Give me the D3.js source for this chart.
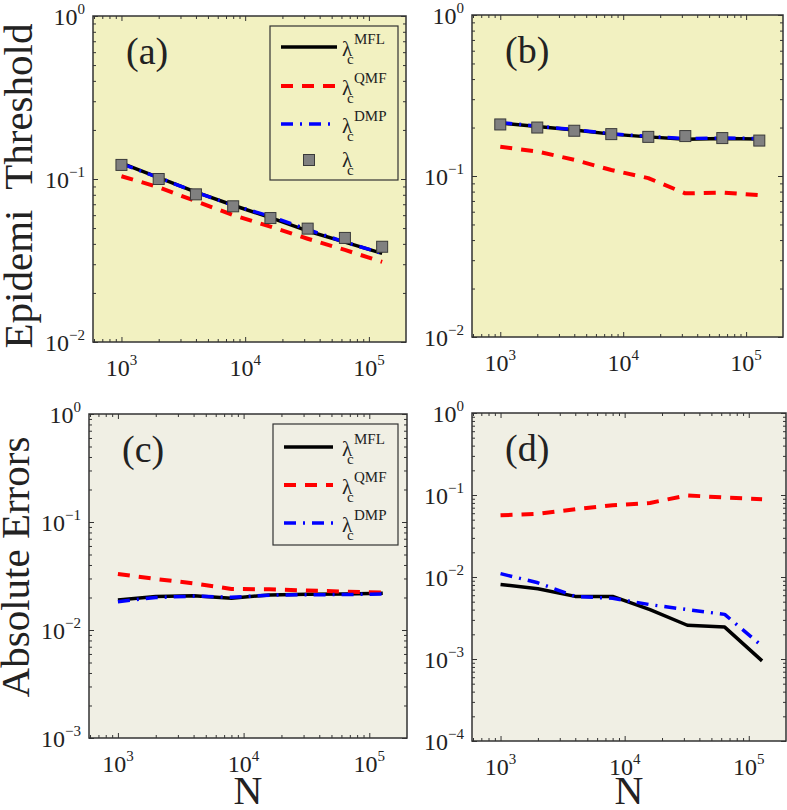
<!DOCTYPE html>
<html>
<head>
<meta charset="utf-8">
<script src="https://cdn.jsdelivr.net/npm/d3@7"></script>
<style>
  html, body { margin: 0; padding: 0; background: #fff; }
  svg { display: block; font-family: "Liberation Serif", "Times New Roman", serif; }
  .title { white-space: pre; }
</style>
</head>
<body>
<svg id="chart" width="787" height="810"></svg>
<script>
/* ===============================
   Data
================================ */

const N_VALUES = [1000, 2000, 4000, 8000, 16000, 32000, 64000, 128000];

/* (a) epidemic threshold */
const A_MFL = [0.125, 0.102, 0.083, 0.069, 0.058, 0.048, 0.041, 0.035];
const A_QMF = [0.104, 0.089, 0.073, 0.060, 0.051, 0.043, 0.0367, 0.031];
const A_DMP = [0.124, 0.102, 0.083, 0.069, 0.059, 0.049, 0.041, 0.035];
const A_SIM = [0.122, 0.100, 0.0805, 0.068, 0.0576, 0.0496, 0.0435, 0.0384];

/* (b) epidemic threshold */
const B_MFL = [0.213, 0.203, 0.193, 0.182, 0.175, 0.169, 0.171, 0.170];
const B_QMF = [0.152, 0.142, 0.126, 0.109, 0.097, 0.078, 0.079, 0.076];
const B_DMP = [0.215, 0.204, 0.194, 0.183, 0.176, 0.171, 0.172, 0.171];
const B_SIM = [0.209, 0.200, 0.191, 0.182, 0.175, 0.177, 0.172, 0.166];

/* (c) absolute errors */
const C_MFL = [0.0190, 0.0204, 0.0208, 0.0197, 0.0211, 0.0214, 0.0216, 0.0219];
const C_QMF = [0.0330, 0.0297, 0.0270, 0.0240, 0.0238, 0.0232, 0.0227, 0.0222];
const C_DMP = [0.0183, 0.0200, 0.0206, 0.0201, 0.0210, 0.0212, 0.0213, 0.0215];

/* (d) absolute errors */
const D_MFL = [0.0081, 0.0072, 0.0058, 0.0058, 0.0040, 0.00258, 0.00245, 0.00095];
const D_QMF = [0.0565, 0.059, 0.067, 0.075, 0.080, 0.099, 0.093, 0.089];
const D_DMP = [0.0110, 0.0085, 0.0058, 0.0055, 0.0046, 0.0040, 0.0035, 0.00144];

const X_TICKS = [1e3, 1e4, 1e5];
const X_TICK_EXP = ["3", "4", "5"];
const Y_TICKS_TOP = [1e-2, 1e-1, 1];
const Y_TICK_EXP_TOP = ["\u22122", "\u22121", "0"];
const Y_TICKS_C = [1e-3, 1e-2, 1e-1, 1];
const Y_TICK_EXP_C = ["\u22123", "\u22122", "\u22121", "0"];
const Y_TICKS_D = [1e-4, 1e-3, 1e-2, 1e-1, 1];
const Y_TICK_EXP_D = ["\u22124", "\u22123", "\u22122", "\u22121", "0"];

const SERIES_NAMES = ["MFL", "QMF", "DMP"];

/* ===============================
   Styles
================================ */

const STYLE = {
  MFL: { color: "#000000", width: 3.5, dash: null },
  QMF: { color: "#ff0000", width: 4, dash: "12,9" },
  DMP: { color: "#0000ff", width: 3.5, dash: "12,7,2,7" }
};

const X_DOMAIN = [Math.pow(10, 2.77), Math.pow(10, 5.3)];

const panels = [
  {
    label: "(a)", box: [93, 16, 406, 342], bg: "#f2f1c1",
    yDomain: [1e-2, 1], yTicks: Y_TICKS_TOP, yExp: Y_TICK_EXP_TOP,
    series: { MFL: A_MFL, QMF: A_QMF, DMP: A_DMP }, sim: A_SIM,
    legend: { x: 270, y: 26, w: 128, h: 154, lineX: [281, 337], textX: 342, rows: [47, 86, 124, 160] }
  },
  {
    label: "(b)", box: [472, 15, 783, 337], bg: "#f2f1c1",
    yDomain: [1e-2, 1], yTicks: Y_TICKS_TOP, yExp: Y_TICK_EXP_TOP,
    series: { MFL: B_MFL, QMF: B_QMF, DMP: B_DMP }, sim: B_SIM
  },
  {
    label: "(c)", box: [89, 414, 407, 738], bg: "#f0efe4",
    yDomain: [1e-3, 1], yTicks: Y_TICKS_C, yExp: Y_TICK_EXP_C,
    series: { MFL: C_MFL, QMF: C_QMF, DMP: C_DMP },
    legend: { x: 273, y: 424, w: 125, h: 121, lineX: [284, 333], textX: 342, rows: [447, 485, 523] },
    xTitle: true
  },
  {
    label: "(d)", box: [472, 413, 786, 741], bg: "#f0efe4",
    yDomain: [1e-4, 1], yTicks: Y_TICKS_D, yExp: Y_TICK_EXP_D,
    series: { MFL: D_MFL, QMF: D_QMF, DMP: D_DMP },
    xTitle: true
  }
];

const svg = d3.select("#chart");

/* ===============================
   Render panels
================================ */

panels.forEach(drawPanel);

/* Y axis titles */
svg.append("text")
  .attr("class", "title")
  .attr("transform", "translate(32,186) rotate(-90)")
  .attr("text-anchor", "middle")
  .attr("font-size", 41)
  .attr("fill", "#222")
  .text("Epidemi  Threshold");

svg.append("text")
  .attr("class", "title")
  .attr("transform", "translate(29,567) rotate(-90)")
  .attr("text-anchor", "middle")
  .attr("font-size", 41)
  .attr("fill", "#222")
  .text("Absolute Errors");

function drawPanel(p) {
  const [x0, y0, x1, y1] = p.box;

  const x = d3.scaleLog().domain(X_DOMAIN).range([x0, x1]);
  const y = d3.scaleLog().domain(p.yDomain).range([y1, y0]);

  const g = svg.append("g");

  g.append("rect")
    .attr("x", x0).attr("y", y0)
    .attr("width", x1 - x0).attr("height", y1 - y0)
    .attr("fill", p.bg);

  /* -------- TICKS (inside, all sides) -------- */

  const xMinor = minorTicks(X_DOMAIN);
  const yMinor = minorTicks(p.yDomain);

  const axes = [
    [d3.axisBottom(x), `translate(0,${y1})`, X_TICKS, xMinor],
    [d3.axisTop(x), `translate(0,${y0})`, X_TICKS, xMinor],
    [d3.axisLeft(y), `translate(${x0},0)`, p.yTicks, yMinor],
    [d3.axisRight(y), `translate(${x1},0)`, p.yTicks, yMinor]
  ];

  axes.forEach(([axis, tr, major, minor]) => {
    g.append("g").attr("transform", tr)
      .call(axis.tickValues(minor).tickSize(-3).tickFormat("").tickSizeOuter(0))
      .call(s => s.select(".domain").remove())
      .selectAll("line").attr("stroke", "#333");
    g.append("g").attr("transform", tr)
      .call(axis.tickValues(major).tickSize(-5).tickFormat("").tickSizeOuter(0))
      .call(s => s.select(".domain").remove())
      .selectAll("line").attr("stroke", "#333");
  });

  /* -------- TICK LABELS -------- */

  X_TICKS.forEach((v, i) => {
    const t = g.append("text")
      .attr("x", x(v)).attr("y", y1 + 34)
      .attr("text-anchor", "middle")
      .attr("font-size", 24).attr("fill", "#222");
    t.append("tspan").text("10");
    t.append("tspan").attr("dy", -11.5).attr("font-size", 15).text(X_TICK_EXP[i]);
  });

  p.yTicks.forEach((v, i) => {
    const t = g.append("text")
      .attr("x", x0 - 8).attr("y", y(v) + 9)
      .attr("text-anchor", "end")
      .attr("font-size", 24).attr("fill", "#222");
    t.append("tspan").text("10");
    t.append("tspan").attr("dy", -11.5).attr("font-size", 15).text(p.yExp[i]);
  });

  /* -------- LINES -------- */

  const clipId = "clip" + p.label.replace(/\W/g, "");
  svg.append("clipPath").attr("id", clipId)
    .append("rect")
    .attr("x", x0).attr("y", y0)
    .attr("width", x1 - x0).attr("height", y1 - y0);

  const line = d3.line()
    .x((d, i) => x(N_VALUES[i]))
    .y(d => y(d));

  const plot = g.append("g").attr("clip-path", `url(#${clipId})`);

  SERIES_NAMES.forEach(name => {
    const st = STYLE[name];
    plot.append("path")
      .datum(p.series[name])
      .attr("d", line)
      .attr("fill", "none")
      .attr("stroke", st.color)
      .attr("stroke-width", st.width)
      .attr("stroke-dasharray", st.dash)
      .attr("stroke-linejoin", "round");
  });

  if (p.sim) {
    plot.selectAll(".marker")
      .data(p.sim)
      .enter()
      .append("rect")
      .attr("class", "marker")
      .attr("x", (d, i) => x(N_VALUES[i]) - 5.5)
      .attr("y", d => y(d) - 5.5)
      .attr("width", 11).attr("height", 11)
      .attr("fill", "#808080")
      .attr("stroke", "#3a3a3a")
      .attr("stroke-width", 1);
  }

  /* -------- FRAME -------- */

  g.append("rect")
    .attr("x", x0).attr("y", y0)
    .attr("width", x1 - x0).attr("height", y1 - y0)
    .attr("fill", "none")
    .attr("stroke", "#333")
    .attr("stroke-width", 1.5);

  /* -------- PANEL LABEL -------- */

  g.append("text")
    .attr("x", x0 + 33).attr("y", y0 + 48)
    .attr("font-size", 38).attr("fill", "#222")
    .text(p.label);

  if (p.legend) drawLegend(g, p.legend, !!p.sim);

  if (p.xTitle) {
    g.append("text")
      .attr("x", (x0 + x1) / 2).attr("y", 804)
      .attr("text-anchor", "middle")
      .attr("font-size", 40).attr("fill", "#222")
      .text("N");
  }
}

/* ===============================
   Legend
================================ */

function drawLegend(g, L, withSim) {
  g.append("rect")
    .attr("x", L.x).attr("y", L.y)
    .attr("width", L.w).attr("height", L.h)
    .attr("fill", "none")
    .attr("stroke", "#333")
    .attr("stroke-width", 1.2);

  SERIES_NAMES.forEach((name, i) => {
    const st = STYLE[name];
    const ry = L.rows[i];
    g.append("line")
      .attr("x1", L.lineX[0]).attr("x2", L.lineX[1])
      .attr("y1", ry).attr("y2", ry)
      .attr("stroke", st.color)
      .attr("stroke-width", st.width)
      .attr("stroke-dasharray", st.dash);
    lambdaLabel(g, L.textX, ry, name);
  });

  if (withSim) {
    const ry = L.rows[3];
    const cx = (L.lineX[0] + L.lineX[1]) / 2;
    g.append("rect")
      .attr("x", cx - 5.5).attr("y", ry - 5.5)
      .attr("width", 11).attr("height", 11)
      .attr("fill", "#808080")
      .attr("stroke", "#3a3a3a")
      .attr("stroke-width", 1);
    lambdaLabel(g, L.textX, ry, null);
  }
}

function lambdaLabel(g, lx, ry, sup) {
  const base = sup ? 9 : 7;
  g.append("text")
    .attr("x", lx).attr("y", ry + base)
    .attr("font-size", 21).attr("fill", "#222")
    .text("\u03bb");
  g.append("text")
    .attr("x", lx + 5).attr("y", ry + base + 8)
    .attr("font-size", 15).attr("fill", "#222")
    .text("c");
  if (sup) {
    g.append("text")
      .attr("x", lx + 12).attr("y", ry - 3)
      .attr("font-size", 15).attr("fill", "#222")
      .text(sup);
  }
}

/* ===============================
   Helpers
================================ */

function minorTicks(domain) {
  const lo = Math.floor(Math.log10(domain[0]));
  const hi = Math.ceil(Math.log10(domain[1]));
  const out = [];
  for (let e = lo; e < hi; e++) {
    for (let m = 2; m <= 9; m++) {
      const v = m * Math.pow(10, e);
      if (v >= domain[0] && v <= domain[1]) out.push(v);
    }
  }
  return out;
}
</script>
</body>
</html>
